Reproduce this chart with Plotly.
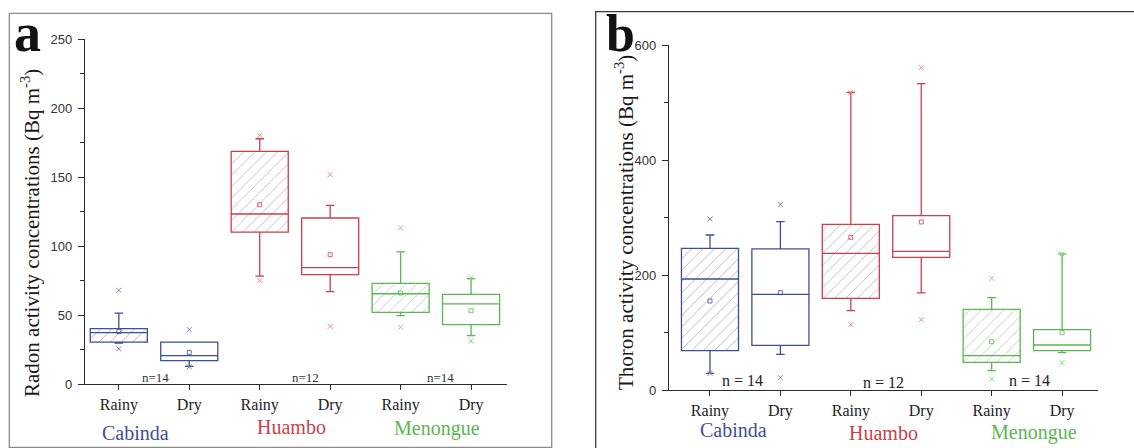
import plotly.graph_objects as go

# ---- data -------------------------------------------------------------
sites = ["Cabinda", "Huambo", "Menongue"]
seasons = ["Rainy", "Dry"]
tick_labels = ["Rainy", "Dry", "Rainy", "Dry", "Rainy", "Dry"]
sample_sizes = ["n=14", "n=12", "n=14"]

# Radon (Bq m-3), order: Cabinda Rainy, Cabinda Dry, Huambo Rainy, Huambo Dry, Menongue Rainy, Menongue Dry
radon_q1 = [30.4, 16.9, 110.1, 79.2, 51.9, 43.0]
radon_median = [37.2, 20.5, 123.2, 84.3, 65.4, 58.0]
radon_q3 = [40.1, 30.4, 168.6, 120.3, 72.9, 65.0]
radon_whisker_low = [29.7, 12.8, 78.2, 66.9, 49.5, 35.0]
radon_whisker_high = [51.4, 30.4, 177.7, 129.4, 95.7, 76.3]
radon_mean = [38.0, 22.9, 129.9, 93.7, 65.9, 53.1]
radon_min = [25.5, 12.5, 74.9, 41.8, 41.1, 31.2]
radon_max = [67.9, 39.4, 180.2, 151.7, 113.2, 77.0]

# Thoron (Bq m-3), same order
thoron_q1 = [68.5, 77.8, 159.6, 231.0, 48.2, 68.5]
thoron_median = [193.2, 166.5, 237.9, 241.4, 59.8, 78.3]
thoron_q3 = [246.6, 245.5, 288.4, 303.5, 140.4, 105.0]
thoron_whisker_low = [29.0, 62.1, 138.1, 168.9, 33.7, 65.0]
thoron_whisker_high = [269.8, 293.0, 518.2, 533.3, 160.7, 236.8]
thoron_mean = [154.9, 169.4, 265.8, 292.5, 84.1, 99.8]
thoron_min = [29.0, 21.5, 113.7, 122.4, 19.1, 47.6]
thoron_max = [297.7, 323.2, 518.2, 561.1, 194.4, 236.8]

# ---- styling ----------------------------------------------------------
W, H = 1134, 448
site_colors = ["#3f4f94", "#cc3f4a", "#5cb653"]
outlier_colors = ["#7b86b8", "#df8a90", "#93cf8c"]
hatch_colors = ["#4c5278", "#806064", "#6f8f68"]
axis_color = "#2b2b2b"
serif = "Liberation Serif, Times New Roman, serif"
sans = "Liberation Sans, Arial, sans-serif"
BOX_W = 0.81


def px_x(px):
    return px / W


def px_y(py):
    return 1 - py / H


fig = go.Figure()


def add_panel(xa, ya, q1, med, q3, wlo, whi, mean, vmin, vmax):
    positions = list(range(len(tick_labels)))
    # hatched fill for the rainy-season boxes
    rainy = [i for i in positions if tick_labels[i] == "Rainy"]
    fig.add_trace(go.Bar(
        x=rainy,
        base=[q1[i] for i in rainy],
        y=[q3[i] - q1[i] for i in rainy],
        width=BOX_W,
        marker=dict(
            color="rgba(0,0,0,0)",
            line=dict(width=0),
            pattern=dict(shape="/", fgcolor=[hatch_colors[i // 2] for i in rainy],
                         bgcolor="rgba(0,0,0,0)", size=8, solidity=0.1),
        ),
        xaxis=xa, yaxis=ya, showlegend=False, hoverinfo="skip",
    ))
    for s, color in enumerate(site_colors):
        idx = [2 * s, 2 * s + 1]
        fig.add_trace(go.Box(
            x=idx,
            q1=[q1[i] for i in idx],
            median=[med[i] for i in idx],
            q3=[q3[i] for i in idx],
            lowerfence=[wlo[i] for i in idx],
            upperfence=[whi[i] for i in idx],
            width=BOX_W,
            whiskerwidth=0.15,
            boxpoints=False,
            line=dict(color=color, width=1.3),
            fillcolor="rgba(0,0,0,0)",
            xaxis=xa, yaxis=ya, showlegend=False, hoverinfo="skip",
        ))
        fig.add_trace(go.Scatter(
            x=idx, y=[mean[i] for i in idx], mode="markers",
            marker=dict(symbol="square-open", size=4, color=color, line=dict(width=0.8)),
            xaxis=xa, yaxis=ya, showlegend=False, hoverinfo="skip",
        ))
        fig.add_trace(go.Scatter(
            x=idx + idx, y=[vmin[i] for i in idx] + [vmax[i] for i in idx], mode="markers",
            marker=dict(symbol="x-thin-open", size=5, color=outlier_colors[s],
                        line=dict(width=1, color=outlier_colors[s])),
            xaxis=xa, yaxis=ya, showlegend=False, hoverinfo="skip",
        ))


add_panel("x", "y", radon_q1, radon_median, radon_q3, radon_whisker_low,
          radon_whisker_high, radon_mean, radon_min, radon_max)
add_panel("x2", "y2", thoron_q1, thoron_median, thoron_q3, thoron_whisker_low,
          thoron_whisker_high, thoron_mean, thoron_min, thoron_max)

xaxis_common = dict(
    tickmode="array", tickvals=list(range(len(tick_labels))), ticktext=tick_labels,
    ticks="outside", ticklen=5, tickwidth=1.3, tickcolor=axis_color,
    showline=True, linecolor=axis_color, linewidth=1.4,
    showgrid=False, zeroline=False, ticklabelstandoff=1, automargin=False,
    tickfont=dict(family=serif, size=16, color="#222"),
)
yaxis_common = dict(
    ticks="outside", ticklen=6, tickwidth=1.2, tickcolor=axis_color,
    showline=True, linecolor=axis_color, linewidth=1.4,
    showgrid=False, zeroline=False, ticklabelstandoff=3, automargin=False,
    tickfont=dict(family=sans, size=13, color="#333"),
)

fig.update_layout(
    width=W, height=H, autosize=False,
    margin=dict(l=0, r=0, t=0, b=0, pad=0, autoexpand=False),
    paper_bgcolor="white", plot_bgcolor="white",
    barmode="overlay", boxmode="overlay",
    xaxis=dict(domain=[px_x(85), px_x(507)], range=[-0.48, 5.51], anchor="y", **xaxis_common),
    yaxis=dict(domain=[px_y(384), px_y(39)], range=[0, 250], anchor="x", tickvals=[0, 50, 100, 150, 200, 250],
               minor=dict(dtick=25, ticks="outside", ticklen=4, tickcolor=axis_color), **yaxis_common),
    xaxis2=dict(domain=[px_x(669), px_x(1098)], range=[-0.582, 5.51], anchor="y2", **xaxis_common),
    yaxis2=dict(domain=[px_y(390), px_y(45.3)], range=[0, 600], anchor="x2", tickvals=[0, 200, 400, 600],
                minor=dict(dtick=100, ticks="outside", ticklen=4, tickcolor=axis_color), **yaxis_common),
)

# panel frames
fig.add_shape(type="rect", xref="paper", yref="paper",
              x0=px_x(9.3), x1=px_x(551.7), y0=px_y(447.3), y1=px_y(13.3),
              line=dict(color="#8c8c8c", width=1.3), layer="below")
fig.add_shape(type="rect", xref="paper", yref="paper",
              x0=px_x(595.7), x1=px_x(1140), y0=px_y(460), y1=px_y(11.7),
              line=dict(color="#3a3a3a", width=1.3), layer="below")


def label(text, cx, cy, size, color, family=serif, angle=0):
    return dict(text=text, x=px_x(cx), y=px_y(cy), xref="paper", yref="paper",
                xanchor="center", yanchor="middle", textangle=angle, showarrow=False,
                font=dict(family=family, size=size, color=color))


annotations = [
    # panel letters
    label("<b>a</b>", 27.5, 33, 54, "#111"),
    label("<b>b</b>", 620, 33, 52, "#111"),
    # axis titles
    label("Radon activity concentrations (Bq m<sup>-3</sup>)", 30, 233, 21, "#1a1a1a", angle=-90),
    label("Thoron activity concentrations (Bq m<sup>-3</sup>)", 624, 223, 21, "#1a1a1a", angle=-90),
]

# site names and sample sizes
site_label_px_a = [(135, 433), (291, 427), (437, 428)]
site_label_px_b = [(733, 430), (883, 433), (1034, 432)]
n_label_px_a = [(155, 377), (305, 377), (440, 377)]
n_label_px_b = [(742, 380), (883, 382), (1029, 380)]
for s, name in enumerate(sites):
    for (cx, cy) in (site_label_px_a[s], site_label_px_b[s]):
        annotations.append(label(name, cx, cy, 20, site_colors[s]))
    cx, cy = n_label_px_a[s]
    annotations.append(label(sample_sizes[s], cx, cy, 13, "#333"))
    cx, cy = n_label_px_b[s]
    annotations.append(label(sample_sizes[s].replace("=", " = "), cx, cy, 16, "#222"))

fig.update_layout(annotations=annotations)

fig.write_html("out.html")
